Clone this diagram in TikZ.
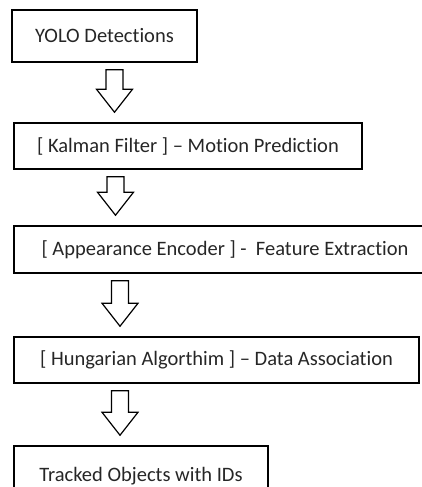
\documentclass[tikz,border=0pt]{standalone}
\usepackage{fontspec}
\setmainfont{Carlito}[Ligatures=NoCommon]
\usepackage{tikz}
\usetikzlibrary{calc, positioning}
\definecolor{inkgray}{RGB}{38, 38, 38}

\tikzset{
  stagebox/.style={draw=black, line width=1.5pt, inner sep=0pt, align=center, font=\fontsize{20.5}{24}\selectfont, text=inkgray},
  arrowline/.style={draw=black, line width=1.2pt, line join=miter}
}

% hollow down arrow: from node, to node, x position
\newcommand{\flowarrow}[3]{
  \draw[arrowline] let \p1=(#1.south), \p2=(#2.north) in
    (#3pt-8.5pt, \y1-7pt) -- (#3pt+8.5pt, \y1-7pt) -- (#3pt+8.5pt, \y2+33pt)
    -- (#3pt+18pt, \y2+33pt) -- (#3pt, \y2+10pt) -- (#3pt-18pt, \y2+33pt)
    -- (#3pt-8.5pt, \y2+33pt) -- cycle;
}

\begin{document}
\begin{tikzpicture}
  \useasboundingbox (0pt,0pt) rectangle (421pt,487pt);

  % Detections
  \node[stagebox, minimum width=185pt, minimum height=52pt] (yolo) at (104.5pt, 451pt) {YOLO Detections};

  % Motion
  \node[stagebox, minimum width=348pt, minimum height=46pt] (kalman) at (188pt, 341pt) {[ Kalman Filter ] – Motion Prediction};

  % Appearance
  \node[stagebox, minimum width=422pt, minimum height=47pt] (encoder) at (225pt, 237.5pt) {[ Appearance Encoder ] -\ \ Feature Extraction};

  % Association
  \node[stagebox, minimum width=405pt, minimum height=46pt] (hungarian) at (216.5pt, 127pt) {[ Hungarian Algorthim ] – Data Association};

  % Output
  \node[stagebox, minimum width=254pt, minimum height=60pt] (tracked) at (141pt, 11pt) {Tracked Objects with IDs};

  \flowarrow{yolo}{kalman}{114.5}
  \flowarrow{kalman}{encoder}{115.5}
  \flowarrow{encoder}{hungarian}{120}
  \flowarrow{hungarian}{tracked}{120}
\end{tikzpicture}
\end{document}
